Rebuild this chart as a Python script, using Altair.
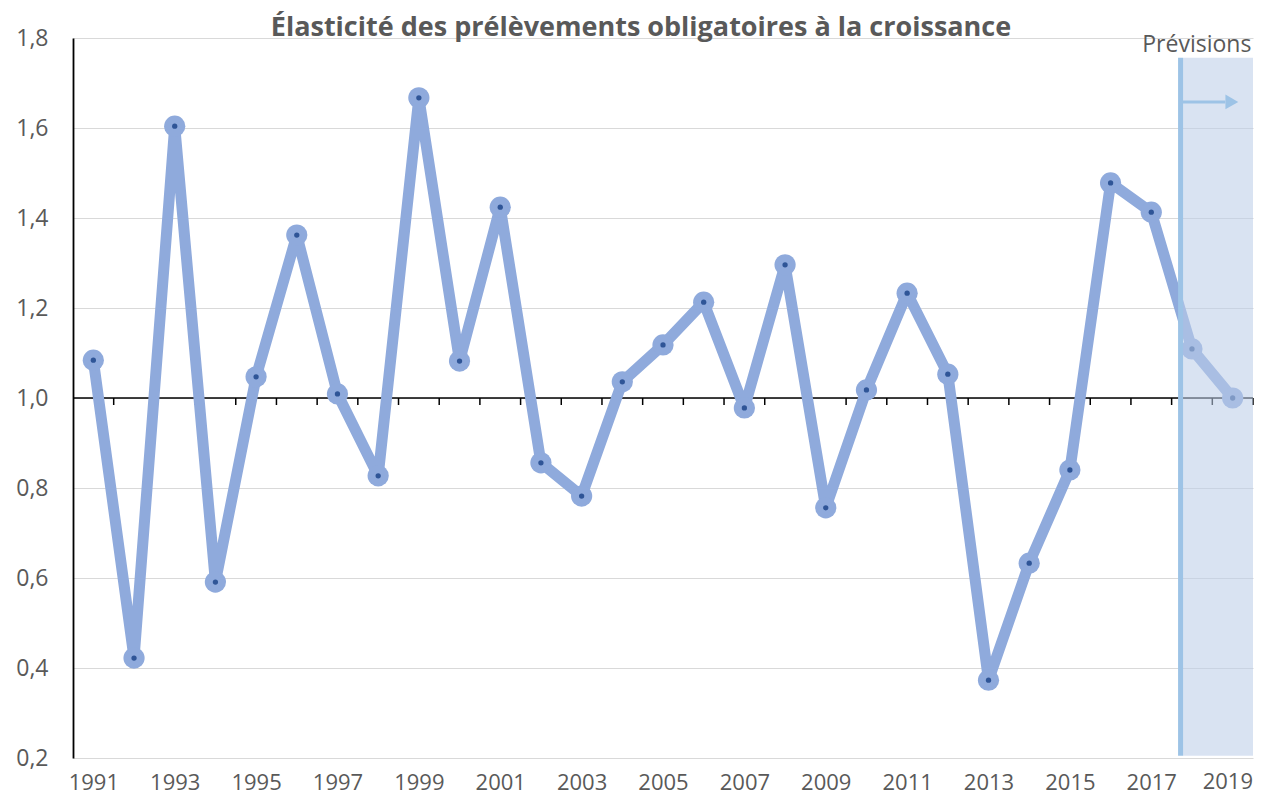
import altair as alt
import pandas as pd

# ---- data ----
years = list(range(1991, 2020))
elasticity = [1.084, 0.422, 1.604, 0.591, 1.047, 1.362, 1.009, 0.827, 1.667, 1.082,
              1.424, 0.856, 0.782, 1.036, 1.118, 1.213, 0.978, 1.296, 0.756, 1.018,
              1.233, 1.053, 0.373, 0.633, 0.840, 1.478, 1.413, 1.109, 1.000]
label_years = list(range(1991, 2018, 2))
last_label = 2019
y_ticks = [0.2, 0.4, 0.6, 0.8, 1.0, 1.2, 1.4, 1.6, 1.8]
boundary_ticks = [y + 0.5 for y in range(1991, 2020)]
forecast_start = 2017.72
forecast_end = 2019.5
forecast_top = 1.756
arrow_y = 1.658
arrow_end = 2018.82
arrow_head = 2018.98
label_text = "Prévisions"
title_text = "Élasticité des prélèvements obligatoires à la croissance"

df = pd.DataFrame({"year": years, "value": elasticity})
ticks_df = pd.DataFrame({"x": boundary_ticks})

FONT = "Open Sans"
GREY = "#595959"
LINE = "#8faadc"
DOT = "#2f5597"
LABEL_SIZE = 22
LABEL_PAD = 31

xscale = alt.Scale(domain=[1990.5, 2019.5], nice=False, zero=False)
yscale = alt.Scale(domain=[0.2, 1.8], nice=False, zero=False)

x_axis = alt.Axis(values=label_years, format="d", grid=False, ticks=False, domain=False,
                  labelFont=FONT, labelFontSize=LABEL_SIZE, labelColor=GREY,
                  labelPadding=LABEL_PAD, labelBaseline="alphabetic", title=None,
                  labelFlush=False)
y_axis = alt.Axis(values=y_ticks, grid=True, gridColor="#d9d9d9", gridWidth=1.2,
                  ticks=False, domain=True, domainColor="black", domainWidth=1.8,
                  labelFont=FONT, labelFontSize=23, labelColor=GREY, labelPadding=25,
                  labelExpr="replace(format(datum.value, '.1f'), '.', ',')", title=None)

base = alt.Chart(df)

line = base.mark_line(color=LINE, strokeWidth=11, strokeJoin="round").encode(
    x=alt.X("year:Q", scale=xscale, axis=x_axis),
    y=alt.Y("value:Q", scale=yscale, axis=y_axis),
)
circles = base.mark_circle(color=LINE, size=450, opacity=1).encode(
    x=alt.X("year:Q", scale=xscale), y=alt.Y("value:Q", scale=yscale))
dots = base.mark_circle(color=DOT, size=28, opacity=1).encode(
    x=alt.X("year:Q", scale=xscale), y=alt.Y("value:Q", scale=yscale))

one = pd.DataFrame({"a": [0]})
one_line = alt.Chart(one).mark_rule(color="black", strokeWidth=1.5).encode(
    x=alt.datum(1990.5, scale=xscale), x2=alt.datum(2019.5), y=alt.datum(1.0, scale=yscale))
tick_marks = alt.Chart(ticks_df).mark_rule(color="black", strokeWidth=1.5).encode(
    x=alt.X("x:Q", scale=xscale), y=alt.datum(1.0, scale=yscale), y2=alt.datum(0.9844))

overlay = alt.Chart(one).mark_rect(color="#bdcee9", opacity=0.57).encode(
    x=alt.datum(forecast_start + 0.06, scale=xscale), x2=alt.datum(forecast_end),
    y=alt.datum(0.205, scale=yscale), y2=alt.datum(forecast_top))
vline = alt.Chart(one).mark_rule(color="#9dc3e6", strokeWidth=5).encode(
    x=alt.datum(forecast_start, scale=xscale),
    y=alt.datum(0.205, scale=yscale), y2=alt.datum(forecast_top))
shaft = alt.Chart(one).mark_rule(color="#9dc3e6", strokeWidth=3).encode(
    x=alt.datum(forecast_start, scale=xscale), x2=alt.datum(arrow_end),
    y=alt.datum(arrow_y, scale=yscale))
head = alt.Chart(one).mark_point(
    shape="triangle-right", filled=True, color="#9dc3e6", size=220, opacity=1).encode(
    x=alt.datum(arrow_head, scale=xscale), y=alt.datum(arrow_y, scale=yscale))
label = alt.Chart(pd.DataFrame({"t": [label_text]})).mark_text(
    font=FONT, fontSize=23, color=GREY, align="right", baseline="alphabetic").encode(
    x=alt.datum(2019.46, scale=xscale), y=alt.datum(1.769, scale=yscale), text="t:N")
last_year_label = alt.Chart(pd.DataFrame({"t": [str(last_label)]})).mark_text(
    font=FONT, fontSize=LABEL_SIZE, color=GREY, align="right", baseline="alphabetic",
    clip=False).encode(
    x=alt.value(1180), y=alt.value(720 + LABEL_PAD), text="t:N")
title = alt.Chart(pd.DataFrame({"t": [title_text]})).mark_text(
    font=FONT, fontSize=27, fontWeight="bold", color=GREY, align="center",
    baseline="alphabetic").encode(
    x=alt.value(568), y=alt.value(-2), text="t:N")

chart = alt.layer(one_line, tick_marks, line, circles, dots, overlay, vline, shaft, head,
                  label, last_year_label, title).properties(
    width=1180, height=720,
    autosize=alt.AutoSizeParams(type="none"),
    padding={"left": 65, "top": 30, "right": 2, "bottom": 40},
).configure_view(stroke=None)

chart.save("out.html", embed_options={"renderer": "svg", "actions": False})
